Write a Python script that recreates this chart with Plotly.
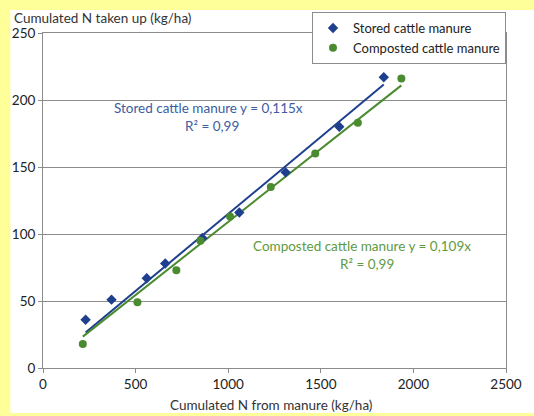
import plotly.graph_objects as go

stored_x = [230, 370, 560, 660, 860, 1060, 1310, 1600, 1840]
stored_y = [36, 51, 67, 78, 97, 116, 146, 180, 217]
comp_x = [215, 510, 720, 850, 1010, 1230, 1470, 1700, 1935]
comp_y = [18, 49, 73, 95, 113, 135, 160, 183, 216]
stored_slope = 0.115
comp_slope = 0.109
x_ticks = [0, 500, 1000, 1500, 2000, 2500]
y_ticks = [0, 50, 100, 150, 200, 250]

BLUE = "#1d3f8e"
GREEN = "#4b8b30"
BLUE_T = "#3b5ca3"
GREEN_T = "#5f9a3f"
FONT = "Lato"

W, H = 534, 416
L, R, T, B = 40, 26, 33, 48
pw, ph = W - L - R, H - T - B

def px(xp):
    return (xp - L) / pw

def py(yp):
    return (H - B - yp) / ph

fig = go.Figure()

sx = [min(stored_x), max(stored_x)]
cx = [min(comp_x), max(comp_x)]
fig.add_trace(go.Scatter(x=sx, y=[stored_slope * v for v in sx], mode="lines",
                         line=dict(color=BLUE, width=2), showlegend=False, hoverinfo="skip"))
fig.add_trace(go.Scatter(x=cx, y=[comp_slope * v for v in cx], mode="lines",
                         line=dict(color=GREEN, width=2), showlegend=False, hoverinfo="skip"))
fig.add_trace(go.Scatter(x=stored_x, y=stored_y, mode="markers", name="Stored cattle manure",
                         marker=dict(symbol="diamond", size=8, color=BLUE)))
fig.add_trace(go.Scatter(x=comp_x, y=comp_y, mode="markers", name="Composted cattle manure",
                         marker=dict(symbol="circle", size=8, color=GREEN)))

fig.add_shape(type="rect", xref="paper", yref="paper", layer="below",
              x0=px(7), x1=px(W + 5), y0=py(413), y1=py(10),
              fillcolor="white", line=dict(width=0))

AF = 13.5
fig.add_annotation(x=892, y=194.2, text="Stored cattle manure y = 0,115x", showarrow=False,
                   font=dict(family=FONT, size=AF, color=BLUE_T))
fig.add_annotation(x=913, y=180.7, text="R² = 0,99", showarrow=False,
                   font=dict(family=FONT, size=AF, color=BLUE_T))
fig.add_annotation(x=1720, y=91.0, text="Composted cattle manure y = 0,109x", showarrow=False,
                   font=dict(family=FONT, size=AF, color=GREEN_T))
fig.add_annotation(x=1752, y=77.5, text="R² = 0,99", showarrow=False,
                   font=dict(family=FONT, size=AF, color=GREEN_T))

fig.add_annotation(xref="paper", yref="paper", x=px(9), y=py(18), xanchor="left", yanchor="middle",
                   text="Cumulated N taken up (kg/ha)", showarrow=False,
                   font=dict(family=FONT, size=13.5, color="#333333"))
fig.add_annotation(xref="paper", yref="paper", x=px(270), y=py(405), xanchor="center", yanchor="middle",
                   text="Cumulated N from manure (kg/ha)", showarrow=False,
                   font=dict(family=FONT, size=13.5, color="#333333"))

axis_common = dict(showline=True, linecolor="#8c8c8c", linewidth=1, mirror=True,
                   ticks="outside", ticklen=4, tickcolor="#8c8c8c", zeroline=False,
                   tickfont=dict(family=FONT, size=13.5, color="#222222"))
fig.update_xaxes(range=[0, 2500], tickvals=x_ticks, ticktext=[str(v) for v in x_ticks],
                 showgrid=False, **axis_common)
fig.update_yaxes(range=[0, 250], tickvals=y_ticks, ticktext=[str(v) for v in y_ticks],
                 showgrid=True, gridcolor="#8c8c8c", gridwidth=1, **axis_common)

fig.update_layout(
    width=W, height=H,
    margin=dict(l=L, r=R, t=T, b=B),
    paper_bgcolor="#ffff99",
    plot_bgcolor="rgba(0,0,0,0)",
    legend=dict(x=1, xanchor="right", y=py(12), yanchor="top",
                bgcolor="white", bordercolor="#8c8c8c", borderwidth=1,
                font=dict(family=FONT, size=13, color="#222222"),
                tracegroupgap=0, itemwidth=30),
    showlegend=True,
)

fig.write_html("out.html", config={"displayModeBar": False},
               post_script="document.body.style.margin='0';document.body.style.overflow='hidden';")
